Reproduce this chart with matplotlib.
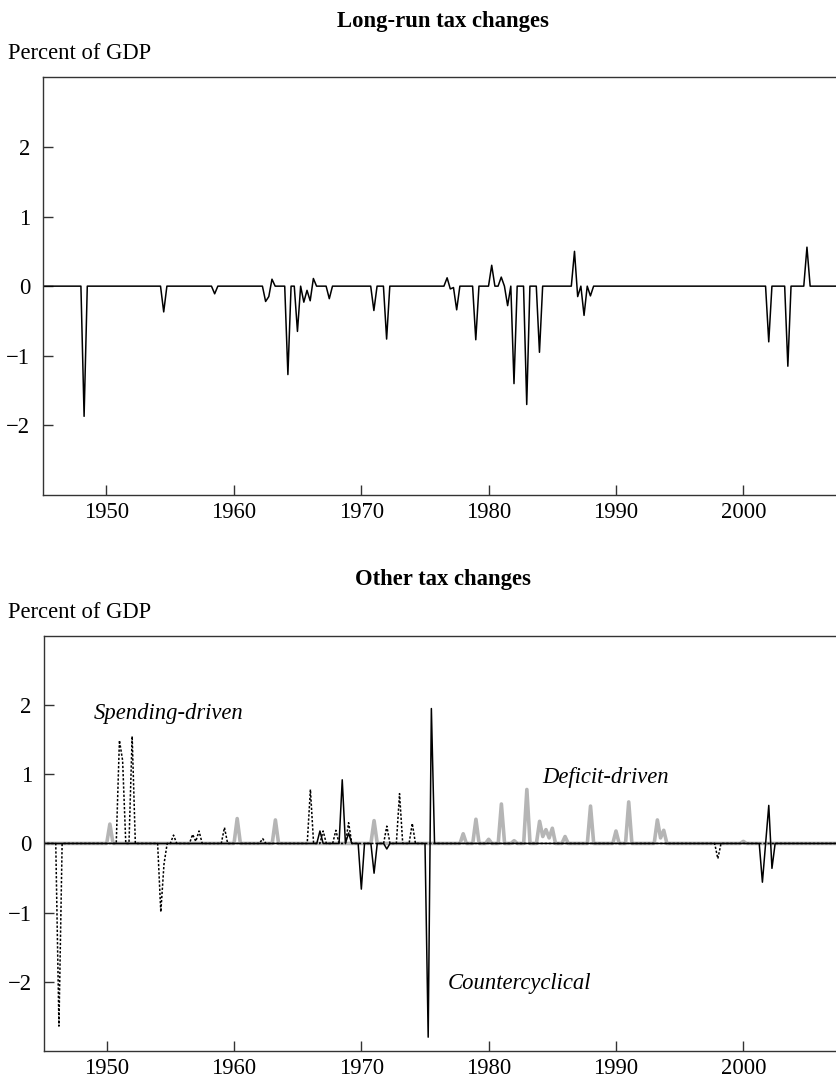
import numpy as np
import pandas as pd
import matplotlib
matplotlib.use("Agg")
import matplotlib.pyplot as plt

plt.rcParams['font.family'] = ['Liberation Serif', 'DejaVu Serif']

# quarterly dates (year + (q-1)/4) and values, percent of GDP; all other quarters are zero
lr_dates = [1948.25, 1954.5, 1958.5, 1962.5, 1962.75, 1963.0, 1964.25, 1965.0, 1965.5,
            1965.75, 1966.0, 1966.25, 1967.5, 1971.0, 1972.0, 1976.75, 1977.0, 1977.25,
            1977.5, 1979.0, 1980.25, 1981.0, 1981.5, 1982.0, 1983.0, 1984.0, 1986.75,
            1987.0, 1987.5, 1988.0, 2002.0, 2003.5, 2005.0]
lr_values = [-1.87, -0.37, -0.11, -0.22, -0.15, 0.10, -1.27, -0.65, -0.23,
             -0.06, -0.21, 0.11, -0.18, -0.35, -0.76, 0.12, -0.04, -0.02,
             -0.34, -0.77, 0.30, 0.13, -0.28, -1.40, -1.70, -0.95, 0.50,
             -0.15, -0.42, -0.14, -0.80, -1.15, 0.56]

# spending-driven (dotted)
sp_dates = [1946.25, 1951.0, 1951.25, 1952.0, 1954.25, 1954.5, 1955.25, 1956.75, 1957.0,
            1957.25, 1959.25, 1962.25, 1966.0, 1967.0, 1968.0, 1969.0, 1972.0, 1973.0,
            1974.0, 1998.0]
sp_values = [-2.64, 1.49, 1.20, 1.55, -0.99, -0.30, 0.12, 0.13, 0.03,
             0.18, 0.23, 0.07, 0.78, 0.18, 0.19, 0.30, 0.25, 0.72,
             0.29, -0.22]

# countercyclical (solid black)
cc_dates = [1966.75, 1968.5, 1969.0, 1970.0, 1971.0, 1972.0, 1975.25, 1975.5,
            2001.5, 2002.0, 2002.25]
cc_values = [0.18, 0.92, 0.15, -0.66, -0.43, -0.08, -2.80, 1.95,
             -0.56, 0.55, -0.36]

# deficit-driven (gray)
df_dates = [1950.25, 1960.25, 1963.25, 1971.0, 1978.0, 1979.0, 1980.0, 1981.0, 1982.0,
            1983.0, 1984.0, 1984.25, 1984.5, 1984.75, 1985.0, 1986.0, 1988.0, 1990.0,
            1991.0, 1993.25, 1993.5, 1993.75, 2000.0]
df_values = [0.28, 0.36, 0.34, 0.33, 0.14, 0.35, 0.06, 0.57, 0.04,
             0.78, 0.32, 0.10, 0.20, 0.08, 0.22, 0.10, 0.54, 0.18,
             0.60, 0.34, 0.08, 0.19, 0.03]

quarters = np.arange(1945.0, 2008.0, 0.25)


def quarterly(dates, values):
    s = pd.Series(0.0, index=np.round(quarters, 2))
    s.loc[np.round(dates, 2)] = values
    return s


long_run = quarterly(lr_dates, lr_values)
spending = quarterly(sp_dates, sp_values)
counter = quarterly(cc_dates, cc_values)
deficit = quarterly(df_dates, df_values)

W, H = 836, 1083
fig = plt.figure(figsize=(W / 100, H / 100), dpi=100)
fs = 16.3


def style(ax, left_year):
    ax.set_xlim(left_year, 2007.28)
    ax.set_ylim(-3, 3)
    ax.set_xticks([1950, 1960, 1970, 1980, 1990, 2000])
    ax.set_yticks([-2, -1, 0, 1, 2])
    ax.tick_params(direction='in', length=7, width=1, labelsize=fs, color='#333333')
    ax.tick_params(axis='y', pad=9)
    ax.tick_params(axis='x', pad=5)
    ax.spines['right'].set_visible(False)
    for sp in ['left', 'top', 'bottom']:
        ax.spines[sp].set_color('#333333')
        ax.spines[sp].set_linewidth(1)


# top panel
ax1 = fig.add_axes([42.7 / W, 1 - 495 / H, 1 - 42.7 / W, (495 - 77.3) / H])
ax1.plot(long_run.index, long_run.values, color='black', lw=1.1)
style(ax1, 1945.0)
fig.text(442.5 / W, 1 - 21.7 / H, 'Long-run tax changes', ha='center', va='center',
         fontsize=fs, fontweight='bold')
fig.text(8 / W, 1 - 53.3 / H, 'Percent of GDP', ha='left', va='center', fontsize=fs)

# bottom panel
ax2 = fig.add_axes([44.3 / W, 1 - 1051 / H, 1 - 44.3 / W, (1051 - 635.9) / H])
ax2.plot(deficit.index, deficit.values, color='#b5b5b5', lw=2.6)
ax2.plot(spending.index, spending.values, color='black', lw=1.1, linestyle=(0, (1.5, 1.2)))
ax2.plot(counter.index, counter.values, color='black', lw=1.1)
style(ax2, 1945.1)
fig.text(442.5 / W, 1 - 579.8 / H, 'Other tax changes', ha='center', va='center',
         fontsize=fs, fontweight='bold')
fig.text(8 / W, 1 - 612 / H, 'Percent of GDP', ha='left', va='center', fontsize=fs)

ax2.text(1948.95, 1.88, 'Spending-driven', style='italic', fontsize=fs, ha='left', va='center')
ax2.text(1984.17, 0.95, 'Deficit-driven', style='italic', fontsize=fs, ha='left', va='center')
ax2.text(1976.79, -2.02, 'Countercyclical', style='italic', fontsize=fs, ha='left', va='center')

fig.savefig('out.png', dpi=100)
